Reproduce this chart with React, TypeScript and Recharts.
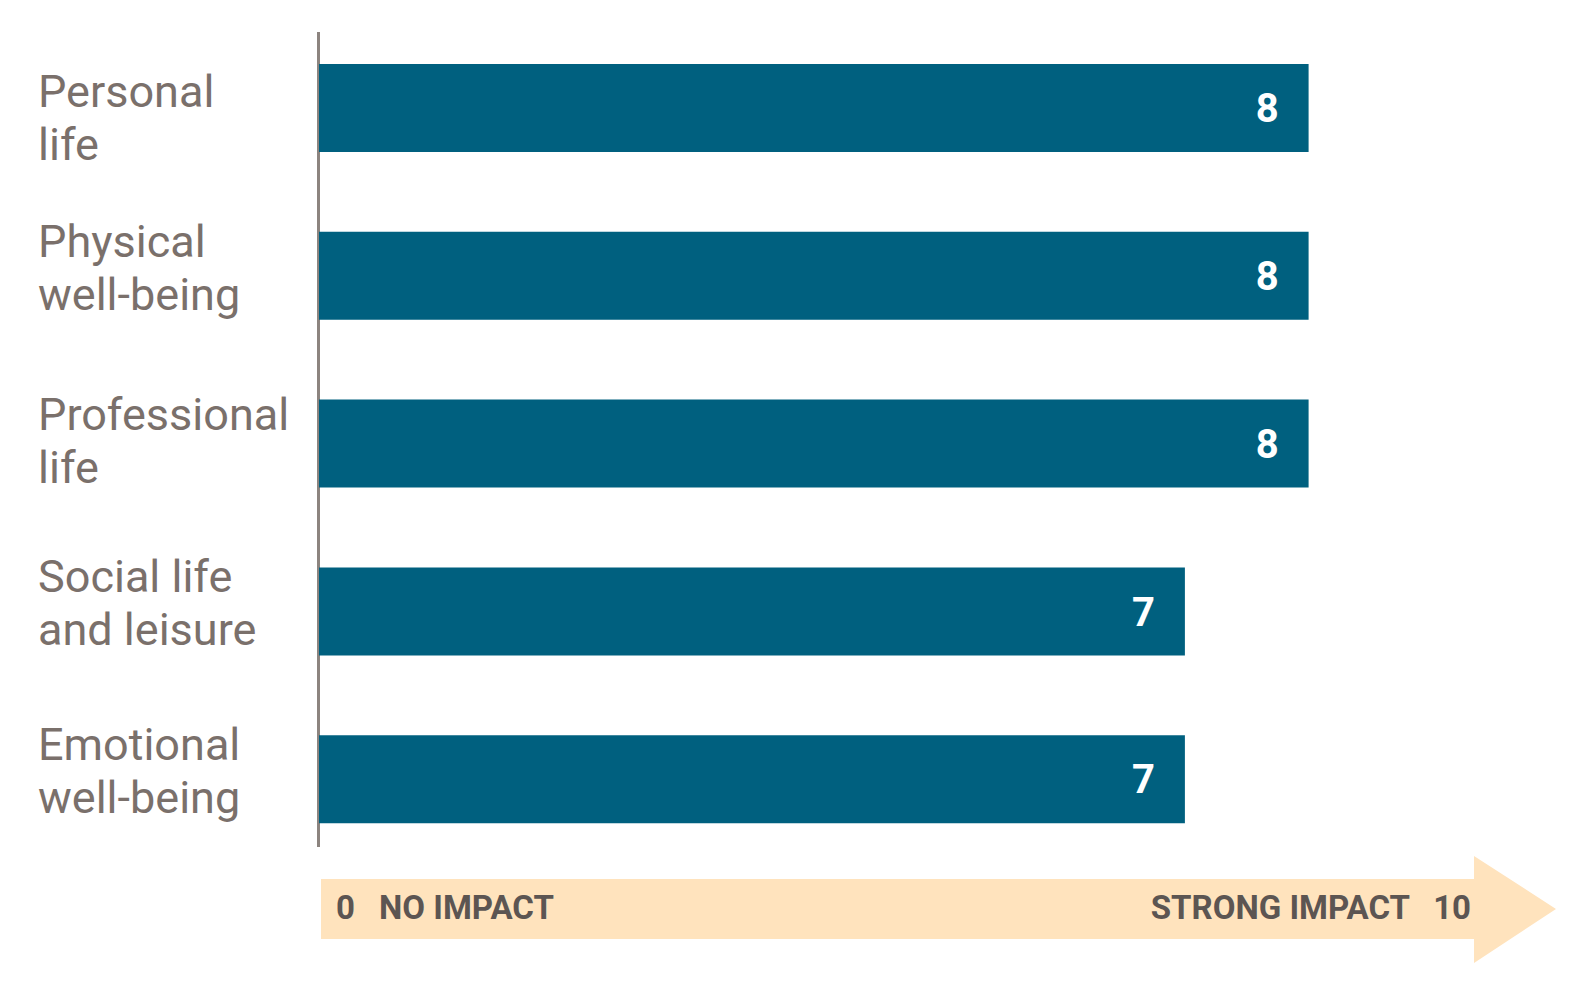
import React from 'react';
import { BarChart, Bar, XAxis, YAxis, LabelList, ReferenceArea } from 'recharts';

const categories = [
  'Personal\nlife',
  'Physical\nwell-being',
  'Professional\nlife',
  'Social life\nand leisure',
  'Emotional\nwell-being',
];
const scores = [8, 8, 8, 7, 7];
const axisTicks = [0, 10];
const lowLabel = 'NO IMPACT';
const highLabel = 'STRONG IMPACT';

const data = categories.map((name, i) => ({ name, value: scores[i] }));

const FONT = 'Roboto, "Noto Sans", sans-serif';
const BAR_COLOR = '#00607F';
const LABEL_COLOR = '#7A706B';
const AXIS_TEXT = '#5C5552';
const ARROW_COLOR = '#FFE3BD';
const LINE_COLOR = '#8C847F';

// small per-row vertical nudges of the category labels (style only)
const LABEL_NUDGE = [-1, -19, -14, -19, -19];

const YTick = (props: any) => {
  const { y, payload, index } = props;
  const lines = String(payload.value).split('\n');
  const nudge = LABEL_NUDGE[index] ?? -15;
  return (
    <text x={38} y={y + nudge} fill={LABEL_COLOR} fontSize={45} fontFamily={FONT} textAnchor="start">
      {lines.map((l, i) => (
        <tspan key={i} x={38} dy={i === 0 ? 0 : 53}>
          {l}
        </tspan>
      ))}
    </text>
  );
};

const XTick = (props: any) => {
  const { x, y, payload } = props;
  const ty = y + 56;
  if (payload.value === 0) {
    return (
      <g>
        <text x={x + 17} y={ty} fill={AXIS_TEXT} fontSize={33} fontWeight="bold" fontFamily={FONT} textAnchor="start">
          {String(payload.value)}
        </text>
        <text x={x + 60} y={ty} fill={AXIS_TEXT} fontSize={33} fontWeight="bold" fontFamily={FONT} textAnchor="start">
          {lowLabel}
        </text>
      </g>
    );
  }
  return (
    <g>
      <text x={x - 85} y={ty} fill={AXIS_TEXT} fontSize={33} fontWeight="bold" fontFamily={FONT} textAnchor="end">
        {String(payload.value)}
      </text>
      <text x={x - 146} y={ty} fill={AXIS_TEXT} fontSize={33} fontWeight="bold" fontFamily={FONT} textAnchor="end">
        {highLabel}
      </text>
    </g>
  );
};

const ArrowShape = (props: any) => {
  const { x, y, width, height } = props;
  const bottom = y + height;
  const left = x + 2;
  const tip = x + width;
  const headBase = tip - 82;
  const bodyTop = bottom + 16;
  const bodyBot = bottom + 76;
  const headTop = bottom - 7;
  const headBot = bottom + 100;
  const mid = bottom + 46;
  const pts = [
    [left, bodyTop],
    [headBase, bodyTop],
    [headBase, headTop],
    [tip, mid],
    [headBase, headBot],
    [headBase, bodyBot],
    [left, bodyBot],
  ]
    .map((p) => p.join(','))
    .join(' ');
  return (
    <g>
      <polygon points={pts} fill={ARROW_COLOR} />
      <line x1={x - 0.5} y1={y + 8} x2={x - 0.5} y2={bottom - 16} stroke={LINE_COLOR} strokeWidth={3} />
    </g>
  );
};

export default function App() {
  return (
    <div style={{ position: 'absolute', left: 0, top: 0, background: '#fff' }}>
      <BarChart
        width={1590}
        height={1000}
        data={data}
        layout="vertical"
        margin={{ top: 24, right: 34, bottom: 57, left: 0 }}
      >
        <XAxis
          type="number"
          domain={[0, 10]}
          ticks={axisTicks}
          axisLine={false}
          tickLine={false}
          tickSize={0}
          tickMargin={0}
          height={80}
          tick={<XTick />}
          interval={0}
        />
        <YAxis
          type="category"
          dataKey="name"
          width={319}
          axisLine={false}
          tickLine={false}
          tick={<YTick />}
          interval={0}
        />
        <ReferenceArea x1={0} x2={10} ifOverflow="visible" shape={<ArrowShape />} />
        <Bar dataKey="value" fill={BAR_COLOR} barSize={88} isAnimationActive={false}>
          <LabelList
            dataKey="value"
            position="insideRight"
            offset={30}
            fill="#FFFFFF"
            fontSize={40}
            fontWeight="bold"
            fontFamily={FONT}
          />
        </Bar>
      </BarChart>
    </div>
  );
}
